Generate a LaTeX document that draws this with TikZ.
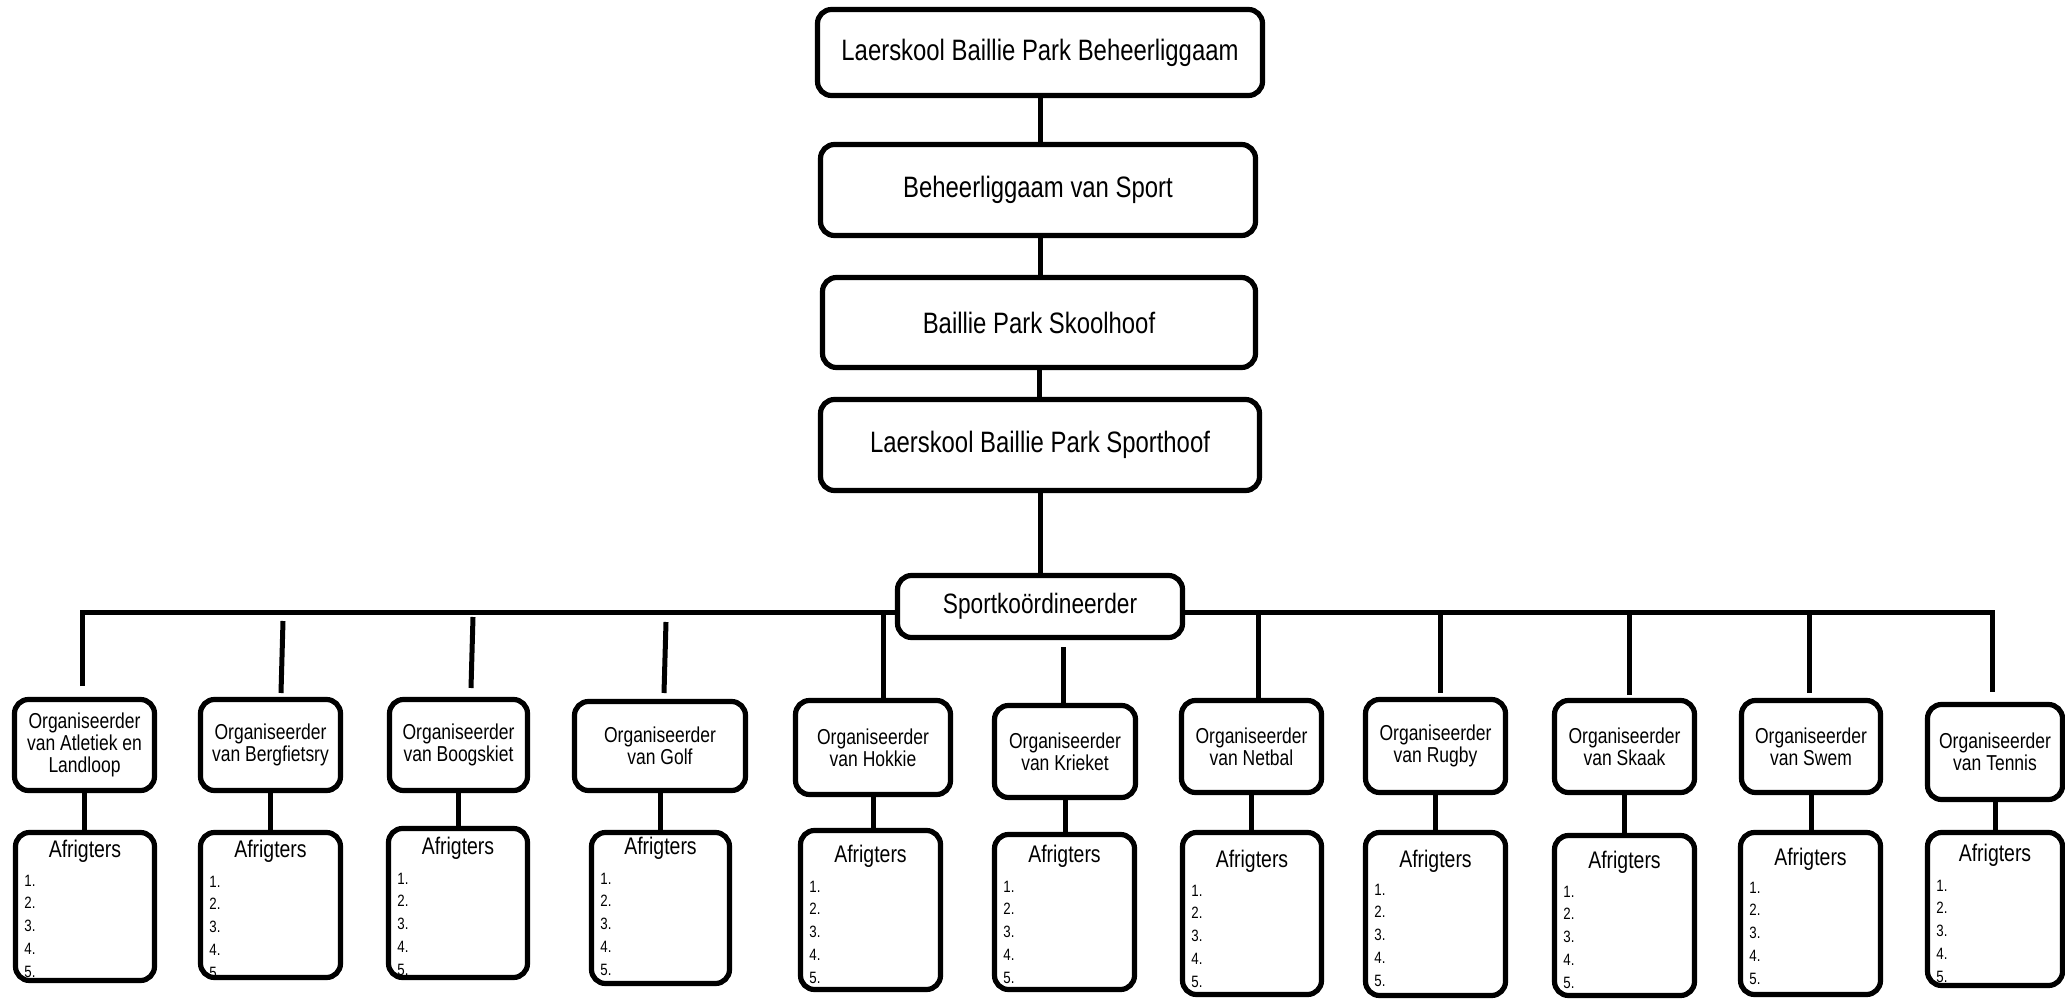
\documentclass[tikz,border=0pt]{standalone}
\usepackage{fontspec}
\setmainfont{Liberation Sans}[FakeStretch=0.81]
\newcommand\mkbox[7]{%
  \pgfmathsetmacro\myBW{(#5-#3-5)*0.5}%
  \pgfmathsetmacro\myBH{(#6-#4-5)*0.5}%
  \node[#1, minimum width=\myBW pt, minimum height=\myBH pt] (#2) at ({(#3+#5)/2},{(#4+#6)/2}) {#7};}
% name x1 y1 x2 y2 titleoffset listoffset
\newcommand\mkcoach[7]{%
  \mkbox{coachbox}{#1}{#2}{#3}{#4}{#5}{}
  \node[titletext, anchor=base] (#1t) at ({(#2+#4)/2},{#3+#6}) {Afrigters};
  \foreach \k in {1,...,5}
    \node[listtext, anchor=base west] (#1n\k) at ({#2+11},{#3+#7+22.75*(\k-1)}) {\k.};}
\begin{document}
\begin{tikzpicture}[x=0.5pt,y=-0.5pt,
  box/.style={draw, line width=2.6pt, rounded corners=7pt, inner sep=0pt, align=center, fill=white},
  topbox/.style={box, font=\fontsize{14.75}{17}\selectfont},
  orgbox/.style={box, font=\fontsize{10.8}{10.9}\selectfont},
  coachbox/.style={box},
  titletext/.style={inner sep=0pt, font=\fontsize{12}{13}\selectfont},
  listtext/.style={inner sep=0pt, font=\fontsize{8.2}{9}\selectfont},
  conn/.style={line width=2.5pt}]
\useasboundingbox (0,0) rectangle (2065,1000);
% top chain
\mkbox{topbox}{t1}{815}{7}{1265}{98}{Laerskool Baillie Park Beheerliggaam}
\mkbox{topbox}{t2}{818}{142}{1258}{238}{Beheerliggaam van Sport}
\mkbox{topbox}{t3}{820}{275}{1258}{370}{Baillie Park Skoolhoof}
\mkbox{topbox}{t4}{818}{397}{1262}{493}{Laerskool Baillie Park Sporthoof}
\mkbox{topbox}{sk}{895}{573}{1185}{640}{\fontsize{14}{16}\selectfont Sportkoördineerder}
\draw[conn] (t1.south) -- (t1.south |- t2.north);
\draw[conn] (t2.south) -- (t2.south -| t1.south) -- (t1.south |- t3.north);
\draw[conn] (t3.south) -- (t3.south |- t4.north);
\draw[conn] (t4.south) -- (t4.south |- sk.north);
% organisers
\mkbox{orgbox}{o1}{12}{697}{157}{793}{Organiseerder\\van Atletiek en\\Landloop}
\mkbox{orgbox}{o2}{198}{697}{343}{793}{Organiseerder\\van Bergfietsry}
\mkbox{orgbox}{o3}{387}{697}{530}{793}{Organiseerder\\van Boogskiet}
\mkbox{orgbox}{o4}{572}{699}{748}{793}{Organiseerder\\van Golf}
\mkbox{orgbox}{o5}{793}{698}{953}{797}{Organiseerder\\van Hokkie}
\mkbox{orgbox}{o6}{992}{703}{1138}{800}{Organiseerder\\van Krieket}
\mkbox{orgbox}{o7}{1179}{698}{1324}{795}{Organiseerder\\van Netbal}
\mkbox{orgbox}{o8}{1363}{697}{1508}{795}{Organiseerder\\van Rugby}
\mkbox{orgbox}{o9}{1552}{698}{1697}{795}{Organiseerder\\van Skaak}
\mkbox{orgbox}{o10}{1739}{698}{1883}{795}{Organiseerder\\van Swem}
\mkbox{orgbox}{o11}{1925}{702}{2065}{802}{Organiseerder\\van Tennis}
% coaches
\mkcoach{a1}{13}{830}{157}{983}{27}{56}
\mkcoach{a2}{198}{830}{343}{980}{27}{57}
\mkcoach{a3}{386}{826}{530}{980}{28}{58}
\mkcoach{a4}{589}{830}{732}{986}{24}{54}
\mkcoach{a5}{798}{828}{943}{992}{34}{64}
\mkcoach{a6}{992}{832}{1137}{992}{30}{60}
\mkcoach{a7}{1180}{830}{1324}{997}{37}{66}
\mkcoach{a8}{1363}{830}{1508}{998}{37}{65}
\mkcoach{a9}{1552}{833}{1697}{998}{35}{64}
\mkcoach{a10}{1738}{830}{1883}{997}{35}{63}
\mkcoach{a11}{1925}{830}{2065}{988}{31}{61}
\foreach \i in {1,...,11}
  \draw[conn] (o\i.south) -- (o\i.south |- a\i.north);
% bus and drops
\coordinate (bus) at (0,612);
\coordinate (d1) at (82,686);
\coordinate (d11) at (1992,692);
\draw[conn] (d1) |- (sk.west |- bus);
\draw[conn] (sk.east |- bus) -| (d11);
\coordinate (d2t) at (283,621);  \coordinate (d2b) at (281,693);
\coordinate (d3t) at (473,617);  \coordinate (d3b) at (471,688);
\coordinate (d4t) at (666,622);  \coordinate (d4b) at (664,693);
\coordinate (d5t) at (883,612);
\coordinate (d6t) at (1063,647);
\coordinate (d7t) at (1258,612);
\coordinate (d8t) at (1440,612); \coordinate (d8b) at (1440,693);
\coordinate (d9t) at (1629,612); \coordinate (d9b) at (1629,695);
\coordinate (d10t) at (1809,612); \coordinate (d10b) at (1809,693);
\draw[conn] (d2t) -- (d2b);
\draw[conn] (d3t) -- (d3b);
\draw[conn] (d4t) -- (d4b);
\draw[conn] (d5t) -- (d5t |- o5.north);
\draw[conn] (d6t) -- (d6t |- o6.north);
\draw[conn] (d7t) -- (d7t |- o7.north);
\draw[conn] (d8t) -- (d8b);
\draw[conn] (d9t) -- (d9b);
\draw[conn] (d10t) -- (d10b);
\end{tikzpicture}
\end{document}
